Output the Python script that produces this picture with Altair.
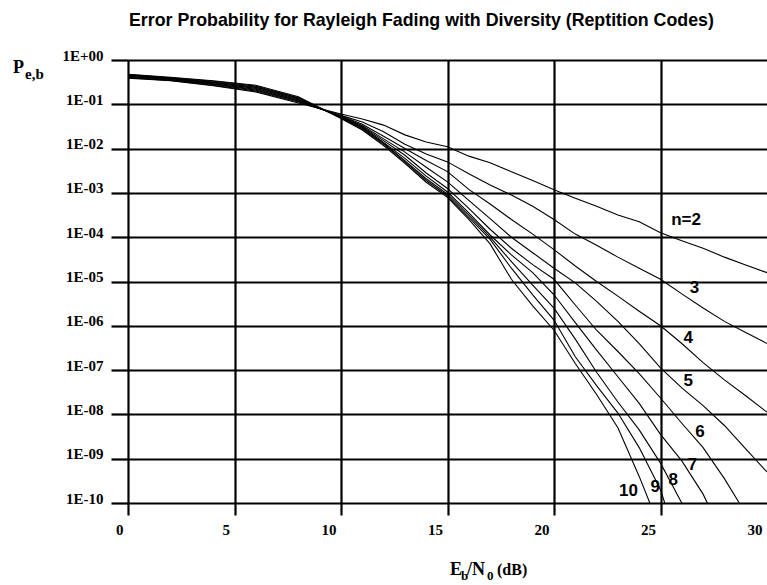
import altair as alt
import pandas as pd

# ---------------- data ----------------
# Eb/N0 in dB and log10(P_e,b) exponents, one list per curve
snr_n2 = [0, 2, 4, 6, 8, 10, 11, 12, 13, 14, 15, 16, 17, 18, 19, 20, 21, 22, 23, 24, 25, 26, 27, 28, 29, 30]
exp_n2 = [-0.41, -0.47, -0.58, -0.72, -0.97, -1.22, -1.33, -1.47, -1.69, -1.85, -1.96, -2.17, -2.32, -2.52,
          -2.72, -2.93, -3.12, -3.30, -3.50, -3.65, -3.90, -4.08, -4.25, -4.45, -4.63, -4.80]

snr_n3 = [0, 2, 4, 6, 8, 10, 11, 12, 13, 14, 15, 16, 17, 18, 19, 20, 21, 22, 23, 24, 25, 26, 27, 28, 29, 30]
exp_n3 = [-0.40, -0.46, -0.57, -0.70, -0.95, -1.25, -1.40, -1.62, -1.90, -2.12, -2.30, -2.57, -2.82, -3.05,
          -3.30, -3.60, -3.93, -4.18, -4.45, -4.70, -4.95, -5.28, -5.60, -5.90, -6.15, -6.40]

snr_n4 = [0, 2, 4, 6, 8, 10, 11, 12, 13, 14, 15, 16, 17, 18, 19, 20, 21, 22, 23, 24, 25, 26, 27, 28, 29, 30]
exp_n4 = [-0.39, -0.45, -0.55, -0.68, -0.93, -1.26, -1.45, -1.72, -2.00, -2.27, -2.52, -2.92, -3.25, -3.60,
          -3.93, -4.28, -4.65, -5.00, -5.33, -5.67, -6.00, -6.40, -6.83, -7.22, -7.58, -7.95]

snr_n5 = [0, 2, 4, 6, 8, 10, 11, 12, 13, 14, 15, 16, 17, 18, 19, 20, 21, 22, 23, 24, 25, 26, 27, 28, 29, 30]
exp_n5 = [-0.37, -0.44, -0.54, -0.66, -0.92, -1.27, -1.48, -1.78, -2.08, -2.42, -2.75, -3.17, -3.58, -4.00,
          -4.35, -4.70, -5.03, -5.45, -5.90, -6.40, -6.95, -7.40, -7.80, -8.25, -8.78, -9.30]

snr_n6 = [0, 2, 4, 6, 8, 10, 11, 12, 13, 14, 15, 16, 17, 18, 19, 20, 21, 22, 23, 24, 25, 26, 27, 28, 28.7]
exp_n6 = [-0.36, -0.43, -0.52, -0.64, -0.90, -1.28, -1.50, -1.82, -2.15, -2.55, -2.90, -3.35, -3.82, -4.25,
          -4.62, -4.95, -5.53, -6.10, -6.58, -7.08, -7.63, -8.20, -8.75, -9.45, -10.0]

snr_n7 = [0, 2, 4, 6, 8, 10, 11, 12, 13, 14, 15, 16, 17, 18, 19, 20, 21, 22, 23, 24, 25, 26, 27, 27.2]
exp_n7 = [-0.35, -0.42, -0.51, -0.62, -0.88, -1.29, -1.52, -1.86, -2.22, -2.62, -2.98, -3.45, -3.95, -4.40,
          -4.80, -5.30, -5.93, -6.55, -7.15, -7.75, -8.45, -9.05, -9.80, -10.0]

snr_n8 = [0, 2, 4, 6, 8, 10, 11, 12, 13, 14, 15, 16, 17, 18, 19, 20, 21, 22, 23, 24, 25, 26]
exp_n8 = [-0.34, -0.41, -0.50, -0.61, -0.86, -1.30, -1.54, -1.88, -2.27, -2.68, -3.03, -3.50, -4.00, -4.55,
          -5.08, -5.60, -6.30, -7.05, -7.72, -8.35, -9.10, -10.0]

snr_n9 = [0, 2, 4, 6, 8, 10, 11, 12, 13, 14, 15, 16, 17, 18, 19, 20, 21, 22, 23, 24, 25, 25.2]
exp_n9 = [-0.33, -0.40, -0.48, -0.59, -0.85, -1.31, -1.56, -1.90, -2.30, -2.72, -3.07, -3.55, -4.05, -4.70,
          -5.30, -5.87, -6.70, -7.35, -7.97, -8.75, -9.70, -10.0]

snr_n10 = [0, 2, 4, 6, 8, 10, 11, 12, 13, 14, 15, 16, 17, 18, 19, 20, 21, 22, 23, 24, 24.5]
exp_n10 = [-0.32, -0.39, -0.47, -0.57, -0.83, -1.32, -1.58, -1.93, -2.33, -2.76, -3.10, -3.60, -4.15, -4.95,
           -5.55, -6.10, -6.85, -7.55, -8.30, -9.40, -10.0]

# curve labels and where they sit (dB, log10 P)
label_text = ["n=2", "3", "4", "5", "6", "7", "8", "9", "10"]
label_snr = [26.2, 26.6, 26.3, 26.3, 26.85, 26.5, 25.6, 24.75, 23.5]
label_exp = [-3.61, -5.15, -6.28, -7.25, -8.40, -9.14, -9.48, -9.64, -9.73]

x_ticks = [0, 5, 10, 15, 20, 25, 30]
y_ticks = [1, 1e-1, 1e-2, 1e-3, 1e-4, 1e-5, 1e-6, 1e-7, 1e-8, 1e-9, 1e-10]

title_text = "Error Probability for Rayleigh Fading with Diversity (Reptition Codes)"

# ---------------- tables ----------------
curves = {
    2: (snr_n2, exp_n2), 3: (snr_n3, exp_n3), 4: (snr_n4, exp_n4),
    5: (snr_n5, exp_n5), 6: (snr_n6, exp_n6), 7: (snr_n7, exp_n7),
    8: (snr_n8, exp_n8), 9: (snr_n9, exp_n9), 10: (snr_n10, exp_n10),
}
rows = []
for n, (snrs, exps) in curves.items():
    for s, e in zip(snrs, exps):
        rows.append({"n": n, "snr": s, "pe": 10 ** e})
df = pd.DataFrame(rows)

df_lab = pd.DataFrame({
    "label": label_text,
    "snr": label_snr,
    "pe": [10 ** e for e in label_exp],
})

W, H = 639, 443
LEFT, TOP = 128, 60

serif = "Liberation Serif"
sans = "Liberation Sans"

label_expr = ("'1E' + (datum.value >= 0.5 ? '+00' : '-' + "
              "(round(-log(datum.value)/LN10) < 10 ? '0' : '') + round(-log(datum.value)/LN10))")

# the 30 dB grid line lies just beyond the right edge of the reference picture
edge_hidden = {"condition": {"test": "datum.value >= 30", "value": "transparent"}, "value": "black"}

x_enc = alt.X(
    "snr:Q",
    scale=alt.Scale(domain=[0, 30], nice=False, zero=False),
    axis=alt.Axis(
        values=x_ticks, title=None, grid=True, gridColor=edge_hidden, gridWidth=2.2, gridOpacity=1,
        domain=False, ticks=True, tickColor=edge_hidden, tickWidth=2.2, tickSize=12,
        labelFont=serif, labelFontWeight="bold", labelFontSize=15, labelColor="black",
        labelAlign="right", labelOffset=-5, labelBaseline="top", labelPadding=7,
        labelFlush=False, labelOverlap=False, format="d",
    ),
)
y_enc = alt.Y(
    "pe:Q",
    scale=alt.Scale(type="log", domain=[1e-10, 1], nice=False),
    axis=alt.Axis(
        values=y_ticks, title=None, grid=True, gridColor="black", gridWidth=2.2, gridOpacity=1,
        domain=False, ticks=True, tickColor="black", tickWidth=2.2, tickSize=17,
        labelFont=serif, labelFontWeight="bold", labelFontSize=15, labelColor="black",
        labelAlign="right", labelBaseline="alphabetic", labelPadding=8,
        labelFlush=False, labelOverlap=False, labelExpr=label_expr,
    ),
)

lines = alt.Chart(df).mark_line(color="black", strokeWidth=1.1, clip=True).encode(
    x=x_enc, y=y_enc, detail="n:N", order="snr:Q"
)

labels = alt.Chart(df_lab).mark_text(
    font=sans, fontWeight="bold", fontSize=17, color="black", align="center", baseline="middle"
).encode(x=x_enc, y=y_enc, text="label:N")


def piece(txt, px, py, size, font=serif):
    return alt.Chart(pd.DataFrame({"t": [txt]})).mark_text(
        font=font, fontWeight="bold", fontSize=size, color="black", align="left", baseline="alphabetic"
    ).encode(text="t:N", x=alt.value(px - LEFT), y=alt.value(py - TOP))


y_title = [piece("P", 13, 73, 18), piece("e,b", 25, 79, 15)]
x_title = [
    piece("E", 450, 575, 18),
    piece("b", 461, 580, 13),
    piece("/N", 467, 575, 18),
    piece("0", 487, 580, 13),
    piece("(dB)", 497, 575, 16),
]

chart = alt.layer(lines, labels, *y_title, *x_title).properties(
    width=W,
    height=H,
    title=alt.TitleParams(
        title_text, font=sans, fontWeight="bold", fontSize=17.8, color="black",
        anchor="start", frame="group", offset=18, dx=1,
    ),
    autosize=alt.AutoSizeParams(type="none"),
    padding={"left": LEFT, "top": TOP, "right": 0, "bottom": 82},
).configure_view(strokeWidth=0).configure(background="white")

chart.save("out.html", embed_options={"renderer": "svg", "actions": False})
